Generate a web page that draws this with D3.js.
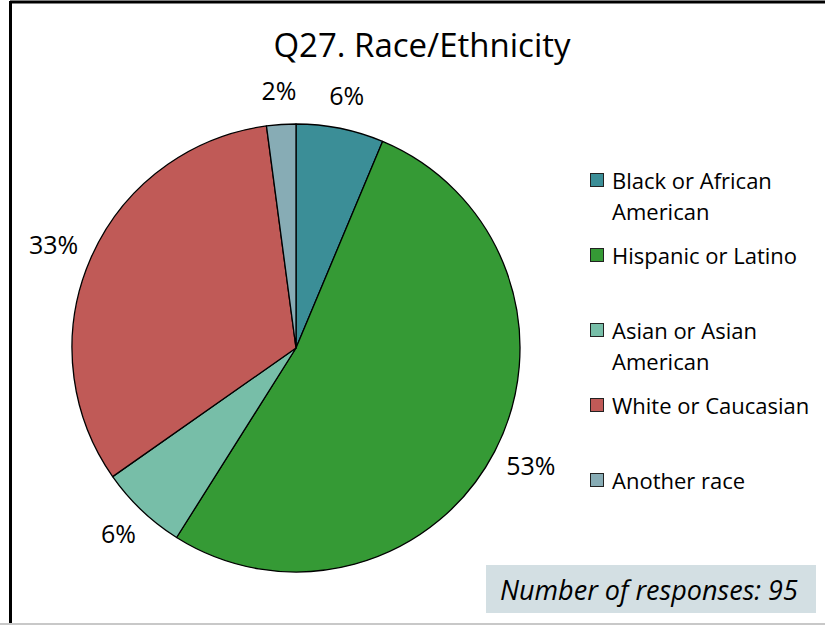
<!DOCTYPE html>
<html>
<head>
<meta charset="utf-8">
<script src="https://cdn.jsdelivr.net/npm/d3@7"></script>
<style>
  body { margin: 0; background: #fff; }
  svg text { font-family: "Open Sans", sans-serif; fill: #000; }
</style>
</head>
<body>
<script>
'use strict';

// chart data
const title = "Q27. Race/Ethnicity";
const categories = ["Black or African American", "Hispanic or Latino", "Asian or Asian American", "White or Caucasian", "Another race"];
const counts = [6, 50, 6, 31, 2];
const percentLabels = ["6%", "53%", "6%", "33%", "2%"];
const colors = ["#3b8e97", "#359a35", "#77bea8", "#c05a57", "#87acb5"];
const responses = 95;

const width = 825, height = 627;
const svg = d3.select("body").append("svg")
  .attr("width", width)
  .attr("height", height);

// chart frame
svg.append("line").attr("x1", 0).attr("x2", width).attr("y1", height - 3).attr("y2", height - 3)
  .attr("stroke", "#c8c8c8").attr("stroke-width", 2);
svg.append("line").attr("x1", 10).attr("x2", width).attr("y1", 2).attr("y2", 2)
  .attr("stroke", "#000").attr("stroke-width", 3);
svg.append("line").attr("x1", 10.5).attr("x2", 10.5).attr("y1", 1).attr("y2", height - 4)
  .attr("stroke", "#000").attr("stroke-width", 3);

// title
svg.append("text")
  .attr("x", 422)
  .attr("y", 57)
  .attr("text-anchor", "middle")
  .style("font-size", "33px")
  .text(title);

// pie
const cx = 296, cy = 348, radius = 224;
const pie = d3.pie().sort(null).value(d => d)(counts);
const arc = d3.arc().innerRadius(0).outerRadius(radius);

const g = svg.append("g").attr("transform", `translate(${cx},${cy})`);
g.selectAll("path")
  .data(pie)
  .enter()
  .append("path")
  .attr("d", arc)
  .attr("fill", (d, i) => colors[i])
  .attr("stroke", "#000")
  .attr("stroke-width", 1.3)
  .attr("stroke-linejoin", "round");

// outside-end labels: text box sits just past the rim on the slice's mid angle
const gap = 16;
g.selectAll(".lbl")
  .data(pie)
  .enter()
  .append("text")
  .attr("class", "lbl")
  .attr("text-anchor", "middle")
  .attr("dy", "0.35em")
  .style("font-size", "25px")
  .text((d, i) => percentLabels[i])
  .each(function(d) {
    const a = (d.startAngle + d.endAngle) / 2;
    const box = this.getBBox();
    const x = Math.sin(a) * (radius + gap) + Math.sin(a) * box.width / 2;
    const y = -Math.cos(a) * (radius + gap) - Math.cos(a) * box.height / 2;
    d3.select(this).attr("x", x).attr("y", y);
  });

// legend
const legendX = 590, legendTop = 181, legendStep = 75, lineH = 31;
const legend = svg.append("g");
categories.forEach((name, i) => {
  const y = legendTop + i * legendStep;
  legend.append("rect")
    .attr("x", legendX + 0.5)
    .attr("y", y - 7.5)
    .attr("width", 13)
    .attr("height", 13)
    .attr("fill", colors[i])
    .attr("stroke", "#222")
    .attr("stroke-width", 1);
  const t = legend.append("text")
    .attr("x", legendX + 22)
    .attr("y", y)
    .attr("dy", "0.35em")
    .style("font-size", "22px");
  // wrap long names onto a second line
  const words = name.split(" ");
  let line = [], tspan = t.append("tspan").attr("x", legendX + 22);
  words.forEach(w => {
    line.push(w);
    tspan.text(line.join(" "));
    if (tspan.node().getComputedTextLength() > 212 && line.length > 1) {
      line.pop();
      tspan.text(line.join(" "));
      line = [w];
      tspan = t.append("tspan").attr("x", legendX + 22).attr("dy", lineH).text(w);
    }
  });
});

// responses note
svg.append("rect")
  .attr("x", 486)
  .attr("y", 565)
  .attr("width", 330)
  .attr("height", 48)
  .attr("fill", "#d3dfe3");
svg.append("text")
  .attr("x", 500)
  .attr("y", 600)
  .style("font-size", "27px")
  .style("font-style", "italic")
  .text("Number of responses: " + responses);
</script>
</body>
</html>
